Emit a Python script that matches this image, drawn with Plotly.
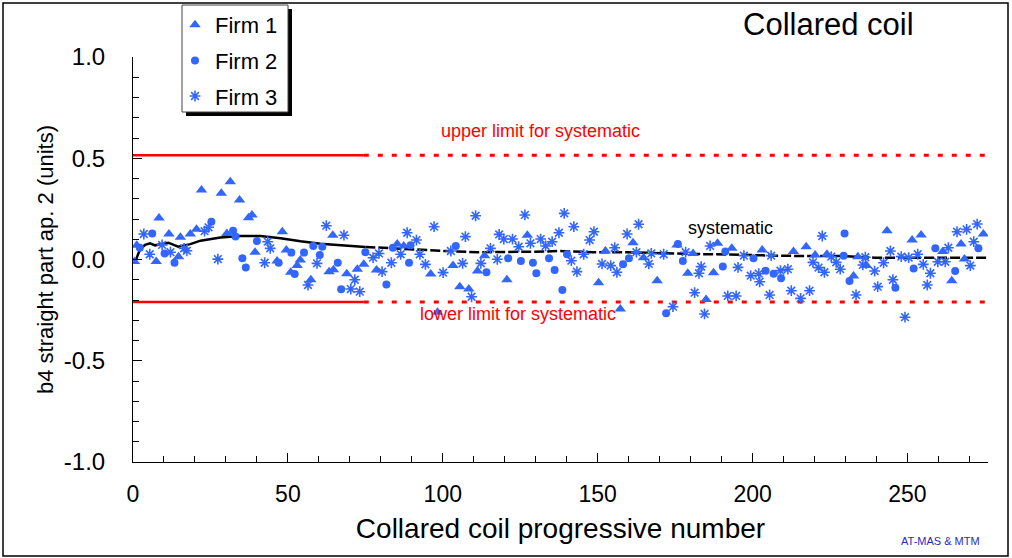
import plotly.graph_objects as go

# ---------------- data ----------------
firm1_x = [0.5, 1.2, 7.5, 8.4, 11.6, 14.7, 15.3, 18.5, 20.5, 22.1, 28.5, 30.3, 31.4, 34.4, 37.3, 38.4,
           39.4, 46.5, 48.2, 49.5, 50.9, 53.0, 54.0, 57.4, 63.3, 64.5, 64.7, 69.0, 72.4, 74.5, 78.6,
           85.3, 87.4, 96.1, 98.3, 103.3, 105.5, 108.4, 111.2, 113.5, 120.7, 127.3, 150.3, 152.5,
           157.3, 161.4, 164.8, 169.2, 175.6, 179.1, 180.8, 185.0, 187.4, 188.7, 193.3, 203.1, 213.2,
           217.3, 220.2, 224.0, 232.6, 234.0, 236.8, 243.4, 251.5, 254.4, 261.4, 264.3, 267.3, 268.4,
           274.5]
firm1_y = [-0.01, 0.07, -0.01, 0.205, 0.126, 0.014, 0.11, 0.126, 0.15, 0.343, 0.327, 0.129, 0.384, 0.294,
           0.206, 0.22, 0.036, -0.007, 0.137, 0.047, -0.063, -0.03, -0.003, -0.10, -0.06, 0.12, -0.05,
           -0.07, -0.048, -0.024, -0.052, 0.077, 0.067, -0.072, -0.26, -0.03, -0.134, -0.146, -0.057,
           0.019, -0.10, 0.12, -0.115, 0.042, -0.244, 0.083, 0.009, -0.105, 0.072, -0.068, 0.03,
           -0.197, -0.065, 0.08, 0.055, 0.047, 0.039, 0.063, 0.022, 0.026, -0.081, 0.014, -0.03,
           0.142, 0.096, 0.121, 0.039, -0.105, 0.077, 0.002, 0.126]

firm2_x = [2.2, 6.2, 10.2, 13.4, 25.3, 32.3, 33.1, 35.3, 36.4, 40.0, 47.0, 51.1, 52.2, 55.2, 58.2, 60.3,
           61.1, 66.1, 67.2, 75.0, 81.8, 83.9, 89.1, 89.6, 104.2, 114.1, 121.1, 125.2, 129.1, 130.2,
           134.3, 136.1, 138.6, 140.1, 158.2, 160.1, 172.1, 175.9, 177.5, 190.4, 191.2, 200.3, 204.2,
           206.8, 209.2, 229.4, 229.7, 231.3, 246.1, 252.0, 259.0, 265.4, 272.9]
firm2_y = [0.058, 0.129, 0.03, -0.016, 0.187, 0.142, 0.113, 0.006, -0.04, 0.091, -0.016, 0.034, -0.072,
           0.034, 0.067, 0.022, 0.063, -0.016, -0.147, 0.036, -0.123, 0.058, -0.016, 0.07, 0.067,
           -0.063, 0.006, -0.007, -0.016, -0.068, 0.006, -0.052, -0.151, 0.026, -0.024, 0.006,
           -0.266, 0.077, -0.007, -0.035, 0.039, 0.006, -0.055, -0.07, -0.093, 0.019, 0.129, -0.106,
           -0.139, -0.044, 0.055, -0.057, 0.055]

firm3_x = [3.5, 5.4, 9.4, 12.1, 16.5, 17.4, 23.1, 24.4, 27.4, 42.5, 43.5, 44.3, 56.5, 59.4, 62.4, 68.1,
           70.3, 71.6, 73.2, 77.5, 79.4, 80.4, 83.4, 86.4, 88.5, 91.5, 92.6, 94.4, 97.2, 100.1, 102.6,
           106.4, 107.3, 109.3, 110.6, 112.3, 115.4, 117.6, 118.2, 119.7, 122.5, 124.5, 126.5, 128.3,
           131.6, 133.2, 135.3, 137.5, 139.2, 141.5, 142.3, 143.3, 145.5, 147.4, 148.8, 151.4, 154.2,
           155.5, 156.2, 159.5, 162.5, 163.2, 166.5, 167.3, 171.3, 174.3, 178.4, 181.3, 182.7, 183.4,
           184.5, 186.3, 192.0, 194.7, 195.3, 197.2, 199.4, 202.0, 202.3, 205.5, 206.0, 209.0, 211.4,
           212.5, 215.5, 218.4, 219.5, 221.3, 222.5, 223.2, 225.4, 227.0, 228.3, 233.4, 235.6, 236.4,
           239.4, 240.4, 242.3, 244.5, 245.3, 248.0, 249.2, 250.4, 253.3, 255.1, 256.4, 257.4, 259.8,
           262.2, 263.2, 266.0, 269.1, 270.3, 271.4, 272.5]
firm3_y = [0.126, 0.026, 0.072, 0.036, 0.055, 0.043, 0.14, 0.159, 0.002, -0.016, 0.088, 0.055, -0.126,
           -0.019, 0.167, 0.12, -0.146, -0.10, -0.159, 0.009, 0.03, -0.06, -0.016, 0.026, 0.132, 0.096,
           0.026, -0.024, 0.162, -0.065, 0.042, -0.019, 0.113, -0.184, 0.216, -0.019, 0.055, 0.001,
           0.124, 0.101, 0.101, 0.063, 0.22, 0.08, 0.101, 0.067, 0.088, 0.132, 0.228, -0.006, 0.162,
           -0.06, 0.026, 0.096, 0.137, -0.022, -0.03, 0.058, -0.063, 0.126, 0.036, 0.174, -0.022, 0.03,
           0.026, -0.233, 0.036, -0.164, -0.068, -0.035, -0.269, 0.067, -0.18, -0.18, -0.039, 0.019,
           -0.08, -0.07, -0.11, -0.175, 0.019, -0.055, -0.048, -0.154, -0.192, -0.154, -0.014, -0.04,
           0.116, -0.063, 0.014, -0.014, -0.048, -0.175, -0.027, 0.011, -0.057, -0.134, -0.016, 0.042,
           -0.10, 0.014, -0.285, 0.009, 0.026, -0.024, -0.126, -0.068, -0.011, -0.011, 0.058, 0.137,
           0.149, -0.03, 0.088, 0.175]

# systematic (running mean) line
sys_x = [0, 1.0, 2.3, 3.9, 5.5, 7.1, 11.4, 14.6, 18.5, 21.8, 28.2, 34.7, 41.1, 47.6, 54.1, 60.5, 69.4,
         75.0, 81.8, 90.0, 100.6, 111.4, 122.1, 132.9, 137.7, 148.5, 159.2, 170.0, 180.8, 191.5,
         202.3, 207.7, 217.8, 228.5, 239.4, 250.1, 260.8, 275.9]
sys_y = [-0.003, 0.0, 0.052, 0.072, 0.08, 0.07, 0.083, 0.063, 0.076, 0.093, 0.109, 0.116, 0.116, 0.105,
         0.09, 0.078, 0.068, 0.062, 0.056, 0.051, 0.042, 0.036, 0.036, 0.039, 0.042, 0.036, 0.036,
         0.03, 0.027, 0.025, 0.019, 0.019, 0.017, 0.017, 0.009, 0.009, 0.009, 0.009]
sys_split = 75.0

# limits for systematic
upper_limit = 0.515
lower_limit = -0.21
limit_solid_x = [0, 74.5]
limit_dotted_x = [74.5, 276]

x_range = [0, 276]
y_range = [-1.0, 1.0]
y_ticks = [-1.0, -0.5, 0.0, 0.5, 1.0]
y_tick_labels = ["-1.0", "-0.5", "0.0", "0.5", "1.0"]
x_ticks = [0, 50, 100, 150, 200, 250]

# ---------------- figure ----------------
BLUE = "#3366ff"
RED = "#ff0000"
FONT = "Liberation Sans, Arial, sans-serif"

W, H = 1012, 558
L, R, T, B = 133, 24, 57, 96
pw, ph = W - L - R, H - T - B


def px_x(px):
    return (px - L) / pw


def px_y(py):
    return (H - B - py) / ph


fig = go.Figure()

# limit lines
for lim in (upper_limit, lower_limit):
    fig.add_trace(go.Scatter(x=limit_solid_x, y=[lim, lim], mode="lines",
                             line=dict(color=RED, width=2.5), showlegend=False, hoverinfo="skip"))
    fig.add_trace(go.Scatter(x=limit_dotted_x, y=[lim, lim], mode="lines",
                             line=dict(color=RED, width=3, dash="5px,9px"), showlegend=False,
                             hoverinfo="skip"))

# systematic line: solid then dashed
sx1 = [x for x in sys_x if x <= sys_split]
sy1 = sys_y[:len(sx1)]
sx2 = sys_x[len(sx1) - 1:]
sy2 = sys_y[len(sx1) - 1:]
fig.add_trace(go.Scatter(x=sx1, y=sy1, mode="lines", line=dict(color="black", width=2.5),
                         showlegend=False, hoverinfo="skip"))
fig.add_trace(go.Scatter(x=sx2, y=sy2, mode="lines",
                         line=dict(color="black", width=2.5, dash="10px,3px"),
                         showlegend=False, hoverinfo="skip"))

# firms
fig.add_trace(go.Scatter(x=firm1_x, y=firm1_y, mode="markers", name="Firm 1", legendgroup="g1",
                         marker=dict(symbol="triangle-up", size=10, color=BLUE)))
fig.add_trace(go.Scatter(x=firm2_x, y=firm2_y, mode="markers", name="Firm 2", legendgroup="g2",
                         marker=dict(symbol="circle", size=8, color=BLUE)))
fig.add_trace(go.Scatter(x=firm3_x, y=firm3_y, mode="markers", name="Firm 3", legendgroup="g3",
                         marker=dict(symbol="asterisk-open", size=9, color=BLUE,
                                     line=dict(color=BLUE, width=1.6))))

# legend shadow, legend box, outer frame
shapes = [
    dict(type="rect", xref="paper", yref="paper",
         x0=px_x(186), x1=px_x(292), y0=px_y(116), y1=px_y(9),
         fillcolor="black", line=dict(width=0), layer="above"),
    dict(type="rect", xref="paper", yref="paper",
         x0=px_x(182), x1=px_x(288), y0=px_y(112), y1=px_y(5),
         fillcolor="white", line=dict(color="#444444", width=1), layer="above"),
    dict(type="rect", xref="paper", yref="paper",
         x0=px_x(3), x1=px_x(1008), y0=px_y(556), y1=px_y(3),
         fillcolor="rgba(0,0,0,0)", line=dict(color="black", width=1.5), layer="above"),
]


def label(text, cx, cy, size, color):
    return dict(text=text, x=px_x(cx), y=px_y(cy), xref="paper", yref="paper",
                xanchor="center", yanchor="middle", showarrow=False,
                font=dict(size=size, color=color, family=FONT))


annotations = [
    label("Collared coil", 828, 25, 31, "black"),
    label("upper limit for systematic", 540, 131, 18, RED),
    label("lower limit for systematic", 518, 314, 18, RED),
    label("systematic", 730, 228, 18, "black"),
    label("AT-MAS &amp; MTM", 940, 541, 11, "#2b2bb8"),
]

fig.update_layout(
    width=W, height=H,
    margin=dict(l=L, r=R, t=T, b=B, autoexpand=False),
    paper_bgcolor="white", plot_bgcolor="white",
    font=dict(family=FONT, color="black"),
    shapes=shapes, annotations=annotations,
    legend=dict(x=px_x(175), y=px_y(4), xanchor="left", yanchor="top",
                bgcolor="rgba(0,0,0,0)", borderwidth=0,
                font=dict(size=22, family=FONT, color="black"),
                tracegroupgap=4, itemsizing="trace"),
    xaxis=dict(range=x_range, tickvals=x_ticks, ticks="inside", ticklen=9, tickcolor="black",
               showline=True, linecolor="black", linewidth=1, showgrid=False, zeroline=False,
               tickfont=dict(size=23, family=FONT), ticklabelstandoff=11,
               minor=dict(dtick=10, ticks="inside", ticklen=6, tickcolor="black", showgrid=False),
               title=dict(text="Collared coil progressive number", font=dict(size=28, family=FONT),
                          standoff=12)),
    yaxis=dict(range=y_range, tickvals=y_ticks, ticktext=y_tick_labels, ticks="inside", ticklen=9,
               tickcolor="black", showline=True, linecolor="black", linewidth=1, showgrid=False,
               zeroline=False, tickfont=dict(size=24, family=FONT), ticklabelstandoff=22,
               minor=dict(dtick=0.1, ticks="inside", ticklen=6, tickcolor="black", showgrid=False),
               title=dict(text="b4 straight part ap. 2 (units)", font=dict(size=22, family=FONT),
                          standoff=4)),
)

fig.write_html("out.html", config={"displayModeBar": False},
               post_script="document.body.style.margin='0px';document.body.style.overflow='hidden';")
